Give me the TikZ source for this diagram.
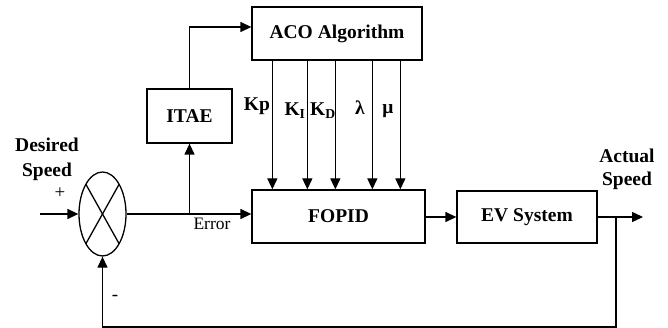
\documentclass[tikz,border=0pt]{standalone}
\usepackage{fontspec}
\setmainfont{Liberation Serif}
\usetikzlibrary{shapes.geometric,arrows.meta,calc}
\begin{document}
\begin{tikzpicture}[x=1pt,y=-1pt,
  line width=1.3pt,
  every node/.style={font=\fontsize{19.5}{22}\selectfont\bfseries},
  blk/.style={draw,rectangle,inner sep=0pt},
  arr/.style={-{Triangle[length=11pt,width=10pt]}},
  lbl/.style={inner sep=0pt}]
\useasboundingbox (0,0) rectangle (668,328);
% blocks
\node[blk,minimum width=170,minimum height=53] (ACO) at (337,33.5) {ACO Algorithm};
\node[blk,minimum width=85,minimum height=54] (ITAE) at (189.5,116) {ITAE};
\node[blk,minimum width=173,minimum height=53] (FOPID) at (338.5,216.5) {FOPID};
\node[blk,minimum width=140,minimum height=52] (EV) at (527,217) {EV System};
\node[draw,ellipse,minimum width=47,minimum height=84,inner sep=0pt] (sum) at (102.5,214) {};
\draw ($(sum)+(-16.6,-29.7)$) -- ($(sum)+(16.6,29.7)$);
\draw ($(sum)+(16.6,-29.7)$) -- ($(sum)+(-16.6,29.7)$);
% input
\coordinate (in) at (40,214);
\draw[arr] (in) -- (sum.west);
% error line
\draw[arr] (sum.east) -- (sum.east -| FOPID.west);
\coordinate (err) at (ITAE.south |- sum.east);
\draw[arr] (err) -- (ITAE.south);
\coordinate (acoin) at ($(ACO.west)+(0,-6.5)$);
\draw[arr] (ITAE.north) |- (acoin);
% gains
\foreach \i/\dx in {1/21,2/56,3/84,4/121,5/149}{
  \path (ACO.south west) ++(\dx,0) coordinate (k\i);
  \draw[arr] (k\i) -- (k\i |- FOPID.north);
}
% FOPID -> EV
\draw[arr] (FOPID.east |- EV.west) -- (EV.west);
\coordinate (out) at (643,217);
\draw[arr] (EV.east) -- (out);
\coordinate (br) at (616,217);
\draw[arr] (br) -- ++(0,110) -| (sum.south);
% labels
\node[lbl,align=center,font=\fontsize{19.5}{25}\selectfont\bfseries] (ds) at (47,159) {Desired\\Speed};
\node[lbl,align=center,font=\fontsize{19.5}{23}\selectfont\bfseries] (as) at (627,169) {Actual\\Speed};
\node[lbl,font=\fontsize{19}{20}\selectfont] (plus) at (60,193) {+};
\node[lbl,font=\fontsize{19}{20}\selectfont] (minus) at (115,298) {-};
\node[lbl,font=\fontsize{17.5}{20}\selectfont] (errl) at (212,224) {Error};
\node[lbl] (lkp) at (257,106) {Kp};
\node[lbl] (lki) at (295,111) {K\textsubscript{I}};
\node[lbl] (lkd) at (323,111) {K\textsubscript{D}};
\node[lbl] (llam) at (360,108) {λ};
\node[lbl] (lmu) at (388,111) {μ};
\end{tikzpicture}
\end{document}
